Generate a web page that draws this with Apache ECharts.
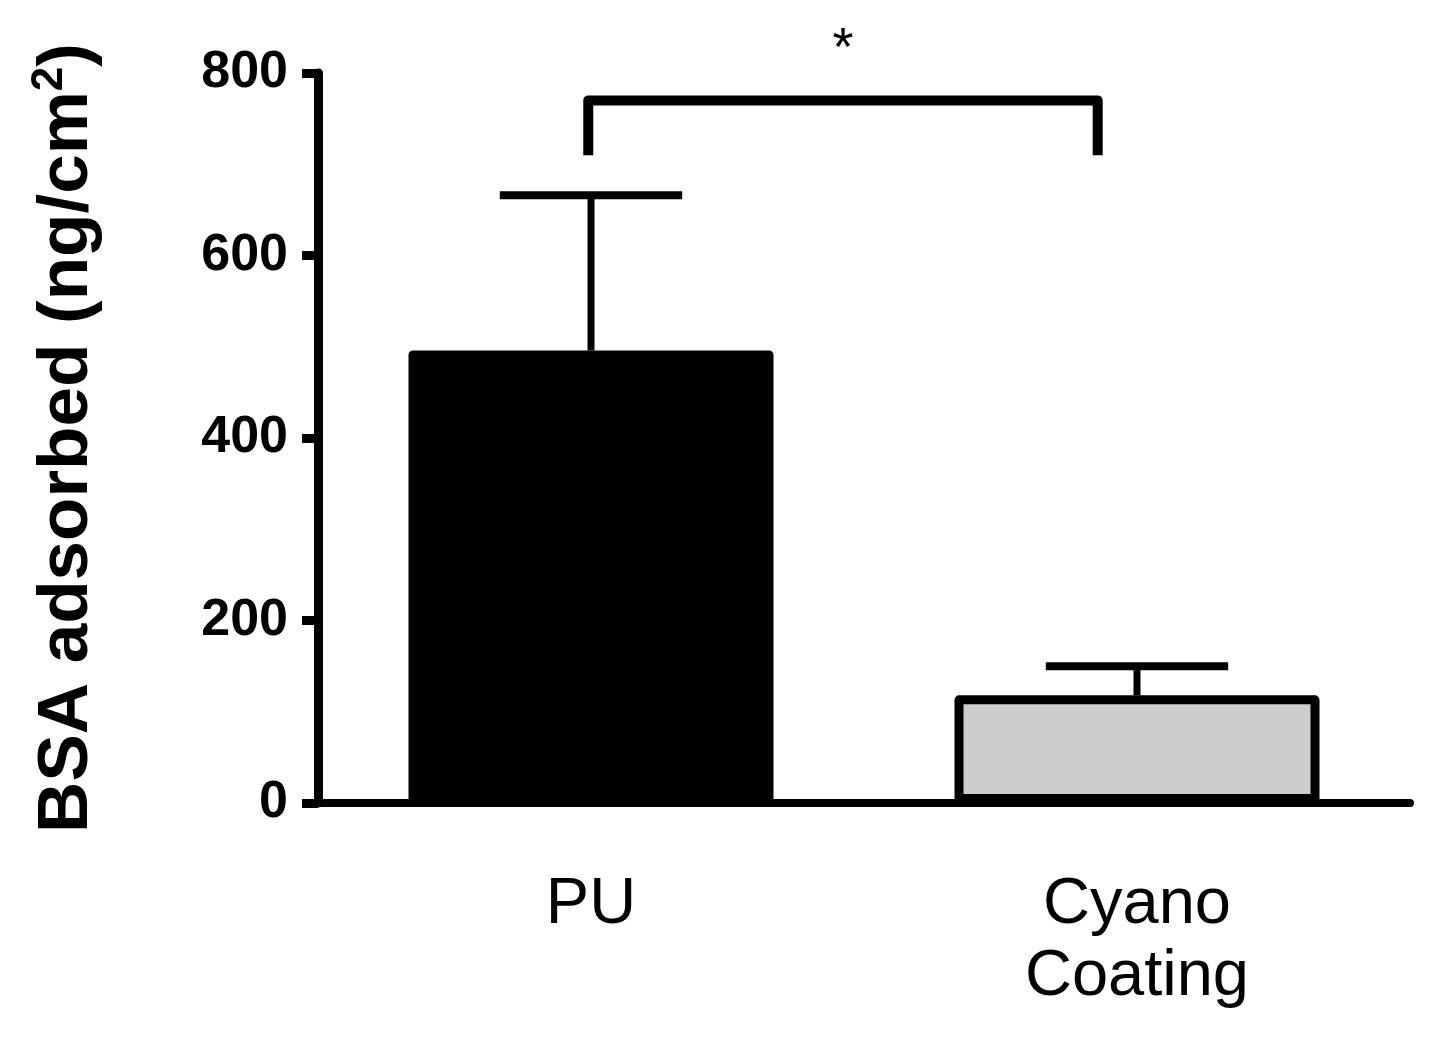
<!DOCTYPE html>
<html>
<head>
<meta charset="utf-8">
<script src="https://cdn.jsdelivr.net/npm/echarts@6/dist/echarts.min.js"></script>
<style>
  html, body { margin: 0; padding: 0; background: #fff; }
  #main { width: 1431px; height: 1054px; }
</style>
</head>
<body>
<div id="main"></div>
<script>
// data
var categories = ['PU', 'Cyano\nCoating'];
var meanValues = [496, 118];
var errorTops = [666, 150];
var barColors = ['#000000', '#cdcdcd'];
var yTicks = [0, 200, 400, 600, 800];
// significance bracket: [from category, to category, top, end]
var bracket = [[0, 1, 770, 710]];
var bracketLabel = '*';

var FONT = '"Liberation Sans", Arial, sans-serif';

var myChart = echarts.init(document.getElementById('main'));

var option = {
    animation: false,
    backgroundColor: '#ffffff',
    grid: {
        left: 318,
        right: 21,
        top: 73,
        bottom: 251
    },
    xAxis: {
        type: 'category',
        data: categories,
        boundaryGap: true,
        axisLine: { lineStyle: { color: '#000', width: 8 } },
        axisTick: { alignWithLabel: true, length: 20, lineStyle: { color: '#000', width: 9 } },
        axisLabel: {
            color: '#000',
            fontFamily: FONT,
            fontSize: 65,
            lineHeight: 72,
            margin: 66
        },
        splitLine: { show: false }
    },
    yAxis: {
        type: 'value',
        min: yTicks[0],
        max: yTicks[yTicks.length - 1],
        interval: 200,
        name: 'BSA adsorbed (ng/cm{sup|2})',
        nameLocation: 'middle',
        nameRotate: 90,
        nameGap: 212,
        nameTextStyle: {
            color: '#000',
            fontFamily: FONT,
            fontWeight: 'bold',
            fontSize: 71,
            rich: {
                sup: {
                    fontFamily: FONT,
                    fontWeight: 'bold',
                    fontSize: 44,
                    verticalAlign: 'top',
                    padding: [0, 0, 34, 0]
                }
            }
        },
        axisLine: { show: true, lineStyle: { color: '#000', width: 9 } },
        axisTick: { show: true, length: 16, lineStyle: { color: '#000', width: 9 } },
        axisLabel: {
            color: '#000',
            fontFamily: FONT,
            fontWeight: 'bold',
            fontSize: 52,
            margin: 30
        },
        splitLine: { show: false }
    },
    series: [
        {
            type: 'bar',
            barWidth: 365,
            data: meanValues.map(function (v, i) {
                return {
                    value: v,
                    itemStyle: {
                        color: barColors[i],
                        borderColor: '#000',
                        borderWidth: 9,
                        borderJoin: 'round'
                    }
                };
            }),
            z: 2
        },
        {
            // upper error bars
            type: 'custom',
            data: meanValues.map(function (v, i) { return [i, v, errorTops[i]]; }),
            renderItem: function (params, api) {
                var base = api.coord([api.value(0), api.value(1)]);
                var top = api.coord([api.value(0), api.value(2)]);
                var half = api.size([1, 0])[0] * 0.167;
                return {
                    type: 'group',
                    children: [
                        {
                            type: 'line',
                            shape: { x1: base[0], y1: base[1], x2: top[0], y2: top[1] },
                            style: { stroke: '#000', lineWidth: 7 }
                        },
                        {
                            type: 'line',
                            shape: { x1: top[0] - half, y1: top[1], x2: top[0] + half, y2: top[1] },
                            style: { stroke: '#000', lineWidth: 8 }
                        }
                    ]
                };
            },
            z: 3
        },
        {
            // significance bracket
            type: 'custom',
            clip: false,
            data: bracket,
            renderItem: function (params, api) {
                var band = api.size([1, 0])[0];
                var p1 = api.coord([api.value(0), api.value(2)]);
                var p2 = api.coord([api.value(1), api.value(2)]);
                var e1 = api.coord([api.value(0), api.value(3)]);
                var xl = p1[0] - 0.005 * band;
                var xr = p2[0] - 0.072 * band;
                return {
                    type: 'group',
                    children: [
                        {
                            type: 'polyline',
                            shape: { points: [[xl, e1[1]], [xl, p1[1]], [xr, p1[1]], [xr, e1[1]]] },
                            style: { stroke: '#000', lineWidth: 10, fill: null, lineJoin: 'round' }
                        },
                        {
                            type: 'text',
                            style: {
                                text: bracketLabel,
                                x: (xl + xr) / 2,
                                y: p1[1] - 50,
                                align: 'center',
                                verticalAlign: 'middle',
                                font: '54px ' + FONT,
                                fill: '#000'
                            }
                        }
                    ]
                };
            },
            z: 3
        }
    ]
};

myChart.setOption(option);
</script>
</body>
</html>
